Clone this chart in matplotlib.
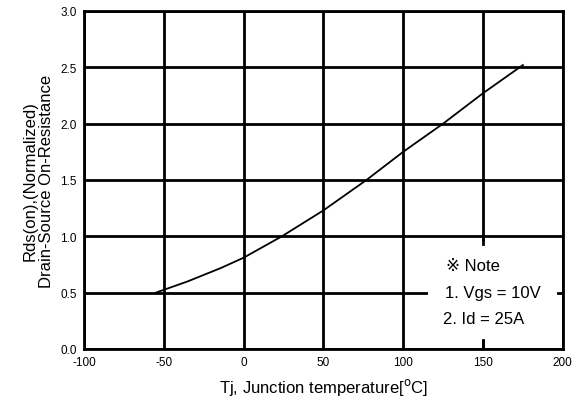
import numpy as np
import matplotlib.pyplot as plt
from matplotlib.patches import Rectangle

plt.rcParams['font.family'] = ['Liberation Sans', 'DejaVu Sans', 'Noto Sans CJK JP']

# curve
tj = [-55, -35, -14, 0, 24, 50, 77, 100, 125, 150, 175]
rds = [0.50, 0.60, 0.72, 0.81, 1.00, 1.23, 1.50, 1.75, 2.00, 2.27, 2.52]

xticks = [-100, -50, 0, 50, 100, 150, 200]
yticks = [0.0, 0.5, 1.0, 1.5, 2.0, 2.5, 3.0]
note_lines = ["\u203b Note", "1. Vgs = 10V", "2. Id = 25A"]

fig = plt.figure(figsize=(5.82, 4.02), dpi=100)
ax = fig.add_axes([0.1443, 0.1294, 0.8227, 0.8408])
ax.set_xlim(-100, 200)
ax.set_ylim(0, 3.0)

# grid drawn by hand so the note box can sit over it
for x in xticks:
    ax.axvline(x, color='black', lw=2.0, zorder=1)
for y in yticks:
    ax.axhline(y, color='black', lw=2.0, zorder=1)

ax.add_patch(Rectangle((115.5, 0.08), 84, 0.88, facecolor='white',
                       edgecolor='none', zorder=2))

# short stubs left visible at the edge of the note box
ax.plot([150, 150], [0, 0.08], color='black', lw=2.0, zorder=3)
ax.plot([150, 150], [0.93, 1.0], color='black', lw=2.0, zorder=3)
ax.plot([197, 200], [0.5, 0.5], color='black', lw=2.0, zorder=3)

ax.plot(tj, rds, color='black', lw=1.3, zorder=4)

for sp in ax.spines.values():
    sp.set_linewidth(2.0)
    sp.set_zorder(5)

ax.set_xticks(xticks)
ax.set_yticks(yticks)
ax.set_xticklabels([str(v) for v in xticks])
ax.set_yticklabels(["%.1f" % v for v in yticks])
ax.tick_params(length=0, labelsize=8.5)
ax.tick_params(axis='x', pad=5)
ax.tick_params(axis='y', pad=5)

ax.set_xlabel("Tj, Junction temperature[$^{\\rm o}$C]", fontsize=12, labelpad=6)
ax.set_ylabel("Rds(on),(Normalized)\nDrain-Source On-Resistance", fontsize=12,
              labelpad=5, linespacing=1.1)

ax.text(127, 0.74, note_lines[0], fontsize=12, va='center', zorder=6)
ax.text(126, 0.50, note_lines[1], fontsize=12, va='center', zorder=6)
ax.text(125, 0.27, note_lines[2], fontsize=12, va='center', zorder=6)

plt.savefig("out.png", dpi=100)
